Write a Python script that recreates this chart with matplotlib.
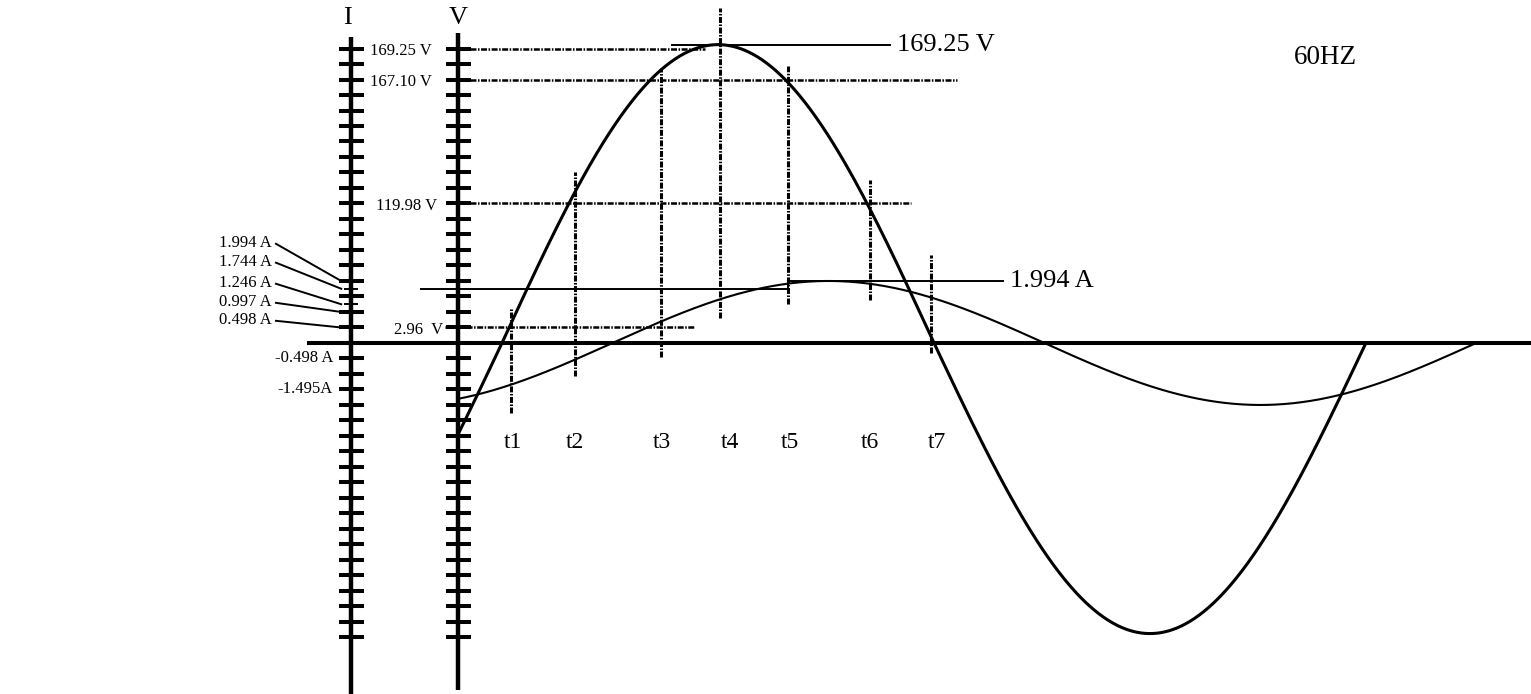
import numpy as np
import matplotlib.pyplot as plt

plt.rcParams['font.family'] = ['Liberation Serif', 'DejaVu Serif']
plt.rcParams['lines.scale_dashes'] = False

# ===== Data =====
# x is in electrical degrees of the voltage wave, y in scale divisions (one tick = one division)

FREQ_LABEL = '60HZ'
V_PEAK_DIV = 19.25            # 169.25 V peak drawn at this height
V_TROUGH_DIV = 18.75          # negative half as sketched
AMP_PER_DIV = 0.4985          # current scale, amperes per division
I_PEAK = 1.994
I_LAG = 46                    # current lags voltage, degrees

V_LABELS = ['169.25 V', '167.10 V', '119.98 V', '2.96  V']
V_LABEL_DIV = [19, 17, 9, 1]
V_LABEL_RIGHT = [-29.2, -29.2, -27.1, -24.6]
V_GUIDE_START = [-13.3, -13.3, -13.3, -23.7]
V_GUIDE_END = [84.6, 189.6, 170.4, 80.0]

I_LABELS_POS = ['1.994 A', '1.744 A', '1.246 A', '0.997 A', '0.498 A']
I_VALUES_POS = [1.994, 1.744, 1.246, 0.997, 0.498]
I_TEXT_DIV = [6.45, 5.23, 3.87, 2.64, 1.48]
I_LABELS_NEG = ['-0.498 A', '-1.495A']
I_VALUES_NEG = [-0.498, -1.495]
I_EXTRA_TICKS = [1.744, 1.246]

T_NAMES = ['t1', 't2', 't3', 't4', 't5', 't6', 't7']
T_DEG = [3.75, 30.4, 66.25, 90.8, 119.2, 153.3, 178.75]
T_TOP = [2.26, 11.03, 17.74, 21.6, 17.9, 10.5, 5.7]
T_BOTTOM = [-4.52, -2.13, -0.9, 1.6, 2.5, 2.8, -0.65]
T_LABEL_DEG = [4.6, 30.4, 66.7, 95.0, 120.0, 153.3, 181.2]

# ===== Layout =====
I_AXIS = -63.1
V_AXIS = -18.3
TICK_DIVS = np.arange(-19, 20)
DASHDOT = (0, (4.3, 1.1, 1.1, 1.1))

fig = plt.figure(figsize=(15.31, 6.94), dpi=100)
ax = fig.add_axes([0, 0, 1, 1])
ax.set_xlim(-209.2, 428.8)
ax.set_ylim(-22.65, 22.13)
ax.axis('off')

# ----- vertical scales -----
ax.plot([I_AXIS, I_AXIS], [-22.65, 19.75], color='black', lw=3.2, solid_capstyle='butt')
ax.plot([V_AXIS, V_AXIS], [-22.4, 20.0], color='black', lw=3.2, solid_capstyle='butt')
for x0 in (I_AXIS, V_AXIS):
    ax.plot(np.full(len(TICK_DIVS), x0), TICK_DIVS, ls='', marker='_',
            ms=18, mew=2.9, color='black')
extra = np.array(I_EXTRA_TICKS) / AMP_PER_DIV
ax.plot(np.full(len(extra), I_AXIS), extra, ls='', marker='_', ms=10, mew=1.4, color='black')

ax.text(I_AXIS - 1.5, 21.0, 'I', fontsize=19, ha='center', va='center')
ax.text(V_AXIS, 21.0, 'V', fontsize=19, ha='center', va='center')

# zero line
ax.plot([-81.25, 428.8], [0, 0], color='black', lw=2.9, solid_capstyle='butt')

# ----- waves -----
deg_v = np.linspace(V_AXIS, 360, 800)
s = np.sin(np.radians(deg_v))
ax.plot(deg_v, np.where(s > 0, V_PEAK_DIV, V_TROUGH_DIV) * s, color='black', lw=2.2)
deg_i = np.linspace(V_AXIS, I_LAG + 360, 800)
ax.plot(deg_i, I_PEAK / AMP_PER_DIV * np.sin(np.radians(deg_i - I_LAG)),
        color='black', lw=1.5)

# ----- voltage guides -----
for lab, div, x_lab, x_start, x_end in zip(V_LABELS, V_LABEL_DIV, V_LABEL_RIGHT,
                                           V_GUIDE_START, V_GUIDE_END):
    ax.plot([x_start, x_end], [div, div], color='black', lw=1.8, ls=DASHDOT)
    ax.text(x_lab, div - 0.15, lab, fontsize=12, ha='right', va='center')

ax.plot([70.8, 161.7], [V_PEAK_DIV, V_PEAK_DIV], color='black', lw=1.4)
ax.text(164.6, V_PEAK_DIV, V_LABELS[0], fontsize=19, ha='left', va='center')

# ----- current guides -----
i_pk = I_PEAK / AMP_PER_DIV
i_mid = I_VALUES_POS[1] / AMP_PER_DIV
ax.plot([-33.75, T_DEG[4], T_DEG[4], 208.75], [i_mid, i_mid, i_pk, i_pk], color='black', lw=1.4)
ax.text(211.7, i_pk, I_LABELS_POS[0], fontsize=19, ha='left', va='center')

for lab, val, tdiv in zip(I_LABELS_POS, I_VALUES_POS, I_TEXT_DIV):
    ax.text(-95.8, tdiv, lab, fontsize=12, ha='right', va='center')
    ax.plot([-94.2, -67.0], [tdiv - 0.05, val / AMP_PER_DIV], color='black', lw=1.4)
for lab, val in zip(I_LABELS_NEG, I_VALUES_NEG):
    ax.text(-70.4, val / AMP_PER_DIV, lab, fontsize=12, ha='right', va='center')

# ----- time markers -----
for name, xd, top, bot, xl in zip(T_NAMES, T_DEG, T_TOP, T_BOTTOM, T_LABEL_DEG):
    ax.plot([xd, xd], [bot, top], color='black', lw=2.2, ls=DASHDOT)
    ax.text(xl, -6.45, name, fontsize=17, ha='center', va='center')

ax.text(343.3, 18.4, FREQ_LABEL, fontsize=19.5, ha='center', va='center')

fig.savefig('out.png', dpi=100)
